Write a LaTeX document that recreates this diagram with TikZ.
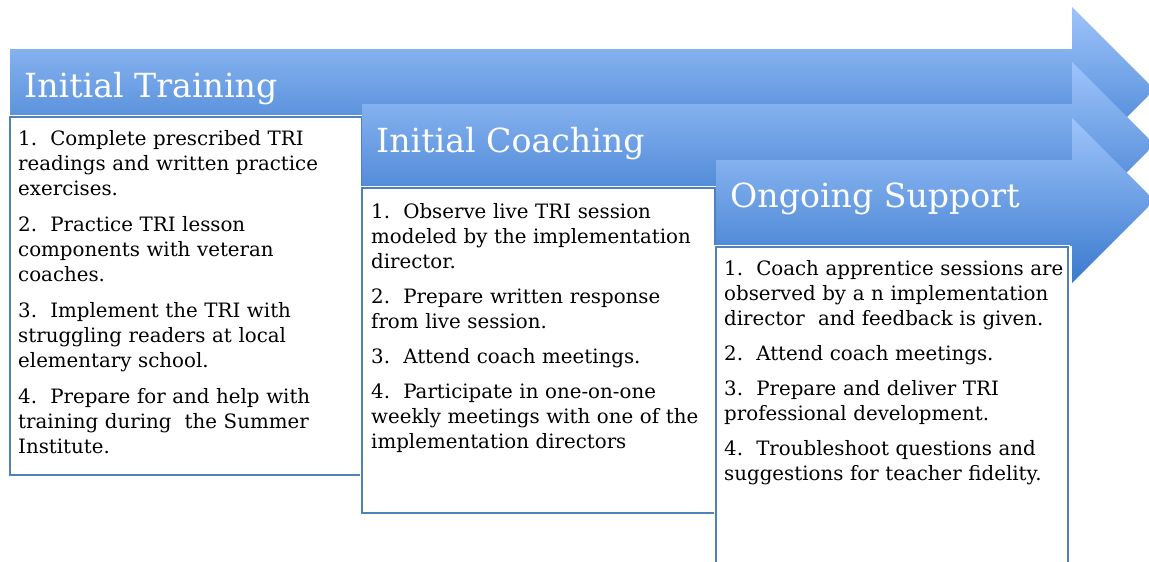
\documentclass[tikz,border=0pt]{standalone}
\usepackage{fontspec}
\setmainfont{DejaVu Serif}
\definecolor{boxblue}{RGB}{79,129,189}
\definecolor{arrtop}{RGB}{158,196,251}
\definecolor{arrbot}{RGB}{58,122,205}
\begin{document}
\begin{tikzpicture}[x=1pt,y=-1pt,
  arrowshape/.style={top color=arrtop, bottom color=arrbot, draw=none},
  boxhalo/.style={draw=white, line width=4pt},
  boxline/.style={fill=white, draw=boxblue, line width=1.6pt},
  headtext/.style={anchor=base west, inner sep=0pt, text=white, font=\fontsize{33.2}{36}\selectfont},
  bodytext/.style={anchor=base west, inner sep=0pt, text width=345pt, align=left, font=\fontsize{19.8}{25}\selectfont}]
\useasboundingbox (0,0) rectangle (1149,562);
% arrow 1 and box 1
\shade[arrowshape] (10,49) -- (1072,49) -- (1072,7) -- (1154.5,89.5) -- (1072,172) -- (1072,130) -- (10,130) -- cycle;
\draw[boxhalo] (10,117) rectangle (362,475);
\draw[boxline] (10,117) rectangle (362,475);
\node[headtext] (h1) at (24,97) {Initial Training};
\node[bodytext] (b1) at (18,145) {1.\ \ Complete prescribed TRI\\ readings and written practice\\ exercises.\\[11pt]
2.\ \ Practice TRI lesson\\ components with veteran\\ coaches.\\[11pt]
3.\ \ Implement the TRI with\\ struggling readers at local\\ elementary school.\\[11pt]
4.\ \ Prepare for and help with\\ training during\ \ the Summer\\ Institute.};
% arrow 2 and box 2
\shade[arrowshape] (362,104) -- (1072,104) -- (1072,62) -- (1154.5,144.5) -- (1072,227) -- (1072,187) -- (362,187) -- cycle;
\draw[boxhalo] (362,188) rectangle (715,513);
\draw[boxline] (362,188) rectangle (715,513);
\node[headtext] (h2) at (376,152) {Initial Coaching};
\node[bodytext] (b2) at (371,218) {1.\ \ Observe live TRI session\\ modeled by the implementation\\ director.\\[10pt]
2.\ \ Prepare written response\\ from live session.\\[10pt]
3.\ \ Attend coach meetings.\\[10pt]
4.\ \ Participate in one-on-one\\ weekly meetings with one of the\\ implementation directors};
% arrow 3 and box 3
\shade[arrowshape] (716,160) -- (1072,160) -- (1072,118) -- (1154.5,200.5) -- (1072,283) -- (1072,246) -- (716,246) -- cycle;
\draw[boxhalo] (716,247) rectangle (1068,575);
\draw[boxline] (716,247) rectangle (1068,575);
\node[headtext] (h3) at (730,207) {Ongoing Support};
\node[bodytext] (b3) at (724,275) {1.\ \ Coach apprentice sessions are\\ observed by a n implementation\\ director\ \ and feedback is given.\\[10pt]
2.\ \ Attend coach meetings.\\[10pt]
3.\ \ Prepare and deliver TRI\\ professional development.\\[10pt]
4.\ \ Troubleshoot questions and\\ suggestions for teacher fidelity.};
\end{tikzpicture}
\end{document}
